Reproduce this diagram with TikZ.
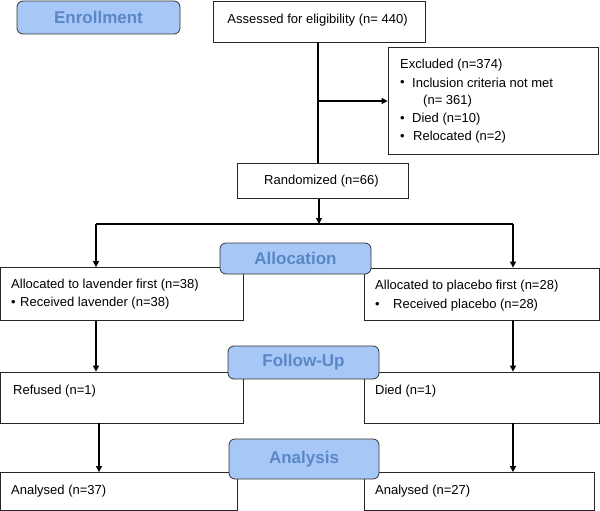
\documentclass[tikz,border=0pt]{standalone}
\usepackage{fontspec}
\setmainfont{Liberation Sans}
\usetikzlibrary{arrows.meta}
\definecolor{hdrfill}{HTML}{A7C7F7}
\definecolor{hdrtext}{HTML}{5A87C5}
\begin{document}
\begin{tikzpicture}[x=1pt,y=-1pt,
  box/.style={draw=black!85, line width=0.8pt, fill=white, inner sep=0pt, rectangle},
  hdr/.style={draw=black!80, line width=0.8pt, fill=hdrfill, rounded corners=6pt, inner sep=0pt,
    text=hdrtext, font=\fontsize{17}{20}\selectfont\bfseries},
  txt/.style={anchor=west, inner sep=0pt, font=\fontsize{13}{15}\selectfont},
  conn/.style={line width=1.1pt, draw=black},
  arr/.style={conn, -{Triangle[length=6pt,width=6pt]}}]
\useasboundingbox (0,0) rectangle (600,511);
% boxes
\node[box, minimum width=212pt, minimum height=41pt] (assess) at (319,21.5) {};
\node[box, minimum width=210pt, minimum height=107pt] (excl) at (493,101) {};
\node[box, minimum width=171pt, minimum height=35pt] (rand) at (322.5,181) {};
\node[box, minimum width=243pt, minimum height=53pt] (lav) at (122,294) {};
\node[box, minimum width=235pt, minimum height=52pt] (plac) at (481.5,294) {};
\node[box, minimum width=243pt, minimum height=51pt] (refused) at (122,397.5) {};
\node[box, minimum width=235pt, minimum height=51pt] (died) at (481.5,397.5) {};
\node[box, minimum width=237pt, minimum height=38pt] (anL) at (119,491.5) {};
\node[box, minimum width=230pt, minimum height=38pt] (anR) at (479,491.5) {};
% texts
\node[txt, anchor=center] (tassess) at (317.5,20) {Assessed for eligibility (n= 440)};
\node[txt] (tex1) at (400,65) {Excluded (n=374)};
\node[txt] (tex2b) at (400,83) {•};
\node[txt] (tex2) at (412,83) {Inclusion criteria not met};
\node[txt] (tex3) at (423,101.5) {(n= 361)};
\node[txt] (tex4b) at (400,119) {•};
\node[txt] (tex4) at (412,119) {Died (n=10)};
\node[txt] (tex5b) at (400,137) {•};
\node[txt] (tex5) at (413,137) {Relocated (n=2)};
\node[txt, anchor=center] (trand) at (321.5,181) {Randomized (n=66)};
\node[txt] (tlav1) at (11,285) {Allocated to lavender first (n=38)};
\node[txt] (tlav2b) at (11,303.5) {•};
\node[txt] (tlav2) at (20,303.5) {Received lavender (n=38)};
\node[txt] (tplac1) at (375,286) {Allocated to placebo first (n=28)};
\node[txt] (tplac2b) at (375,305.5) {•};
\node[txt] (tplac2) at (393,305.5) {Received placebo (n=28)};
\node[txt] (tref) at (13,391) {Refused (n=1)};
\node[txt] (tdied) at (375,391) {Died (n=1)};
\node[txt] (tanL) at (11,491) {Analysed (n=37)};
\node[txt] (tanR) at (375,491) {Analysed (n=27)};
% connectors
\coordinate (a1) at (318,42);
\coordinate (split) at (319,224);
\coordinate (sL) at (96,224);
\coordinate (sR) at (513,224);
\draw[conn] (a1) -- (a1 |- rand.north);
\draw[arr] (a1 |- excl.west) -- (excl.west);
\draw[arr] (split |- rand.south) -- (split);
\draw[conn] (sL) -- (sR);
\draw[arr] (sL) -- (sL |- lav.north);
\draw[arr] (sR) -- (sR |- plac.north);
\draw[arr] (sL |- lav.south) -- (sL |- refused.north);
\draw[arr] (sR |- plac.south) -- (sR |- died.north);
\coordinate (rL) at (99,424);
\draw[arr] (rL |- refused.south) -- (rL |- anL.north);
\draw[arr] (sR |- died.south) -- (sR |- anR.north);
% headers
\node[hdr, minimum width=163pt, minimum height=33pt] (enroll) at (98.5,17.5) {Enrollment};
\node[hdr, minimum width=151pt, minimum height=31pt] (alloc) at (295.5,258.5) {Allocation};
\node[hdr, minimum width=151pt, minimum height=33pt] (follow) at (303.5,362.5) {Follow-Up};
\node[hdr, minimum width=150pt, minimum height=40pt] (analysis) at (304,459) {Analysis};
\end{tikzpicture}
\end{document}
